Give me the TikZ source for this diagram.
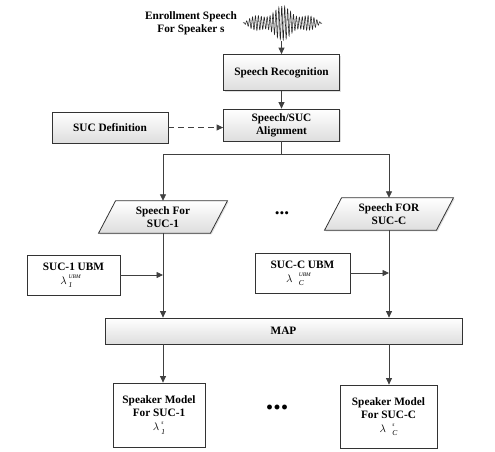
\documentclass[tikz,border=0pt]{standalone}
\usepackage{fontspec}
\setmainfont{Liberation Serif}
\usetikzlibrary{arrows.meta,shadows,calc}
\pgfdeclarelayer{background}
\pgfsetlayers{background,main}
\newcommand{\scrstack}[2]{\raisebox{-3.2pt}{\shortstack[l]{\mdseries\itshape\fontsize{5.5}{5.5}\selectfont #1\\[1.2pt]\mdseries\itshape\fontsize{7.5}{7.5}\selectfont #2}}}
\tikzset{
  lbl/.style={font=\fontsize{11.3}{13}\selectfont\bfseries, align=center, inner sep=0pt},
  ln/.style={draw=black!75, line width=0.8pt},
  arr/.style={ln, -{Triangle[length=6.5pt,width=6pt]}},
  dasharr/.style={arr, dash pattern=on 6pt off 4pt},
  gbox/.style={lbl, draw=black!80, line width=0.8pt, top color=white, bottom color=black!13,
    drop shadow={shadow xshift=1.2pt, shadow yshift=-1.2pt, opacity=0.25}},
  wbox/.style={lbl, draw=black!80, line width=0.8pt, fill=white},
  pshape/.style={draw=black!80, line width=0.8pt, top color=white, bottom color=black!13,
    drop shadow={shadow xshift=1.2pt, shadow yshift=-1.2pt, opacity=0.25}},
  dots/.style={font=\bfseries, inner sep=0pt},
}
\begin{document}
\begin{tikzpicture}[x=1pt,y=-1pt]
\useasboundingbox (0,0) rectangle (495,451);

% enrollment speech
\node[lbl] (en) at (191,23) {Enrollment Speech\\For Speaker s};
\draw[line width=0.55pt, black!85] plot[samples=500, domain=0:1]
  ({243+79*\x}, {23 - 17*sin(180*\x)*(0.72+0.28*sin(900*\x))*sin(360*27*\x)});
\coordinate (wb) at (281.5,41);

% main chain
\node[gbox, minimum width=116pt, minimum height=36pt] (sr) at (281.5,72.5) {Speech Recognition};
\node[gbox, minimum width=116pt, minimum height=32pt] (al) at (281.5,125) {Speech/SUC\\Alignment};
\node[gbox, minimum width=116pt, minimum height=31pt] (sd) at (110,127.5) {SUC Definition};

% parallelograms
\node[lbl, minimum width=111.5pt, minimum height=32pt] (p1) at (163,217) {Speech For\\SUC-1};
\node[lbl, minimum width=111.5pt, minimum height=32pt] (p2) at (389,214) {Speech FOR\\SUC-C};
\begin{pgfonlayer}{background}
\path[pshape] ([xshift=-8.5pt]p1.south west) -- ([xshift=-8.5pt]p1.south east)
  -- ([xshift=8.5pt]p1.north east) -- ([xshift=8.5pt]p1.north west) -- cycle;
\path[pshape] ([xshift=-8.5pt]p2.south west) -- ([xshift=-8.5pt]p2.south east)
  -- ([xshift=8.5pt]p2.north east) -- ([xshift=8.5pt]p2.north west) -- cycle;
\end{pgfonlayer}
\node[dots, font=\fontsize{19}{19}\selectfont\bfseries] (d1) at (282,213) {...};

% UBM boxes
\node[wbox, minimum width=93pt, minimum height=40pt] (u1) at (73.5,275)
  {SUC-1 UBM\\[1pt]\hspace*{-6pt}$\lambda$\,\scrstack{UBM}{1}};
\node[wbox, minimum width=95pt, minimum height=40pt] (u2) at (302.5,273)
  {SUC-C UBM\\[1pt]\hspace*{-8pt}$\lambda$\;\;\scrstack{UBM}{C}};

% MAP
\node[gbox, minimum width=357pt, minimum height=26pt] (map) at (283.5,331) {MAP};

% speaker models
\node[wbox, minimum width=92pt, minimum height=64pt] (b1) at (159,415)
  {Speaker Model\\For SUC-1\\[1pt]$\lambda$\,\scrstack{s}{1}};
\node[wbox, minimum width=97pt, minimum height=63pt] (b2) at (388.5,416.5)
  {Speaker Model\\For SUC-C\\[1pt]$\lambda$\;\;\scrstack{s}{C}};
\node[dots, font=\fontsize{30}{30}\selectfont\bfseries] (d2) at (277,407) {...};

% connectors
\draw[arr] (wb) -- (sr.north);
\draw[arr] (sr.south) -- (al.north);
\draw[dasharr] (sd.east) -- (sd.east -| al.west);
\coordinate (t) at (281.5,154);
\draw[ln] (al.south) -- (t);
\draw[arr] (t) -| (p1.north);
\draw[arr] (t) -| (p2.north);
\draw[arr] (p1.south) -- (p1.south |- map.north);
\draw[arr] (p2.south) -- (p2.south |- map.north);
\draw[arr] (u1.east) -- (u1.east -| p1.south);
\draw[arr] (u2.east) -- (u2.east -| p2.south);
\draw[arr] (p1.south |- map.south) -- (p1.south |- b1.north);
\draw[arr] (p2.south |- map.south) -- (p2.south |- b2.north);
\end{tikzpicture}
\end{document}
